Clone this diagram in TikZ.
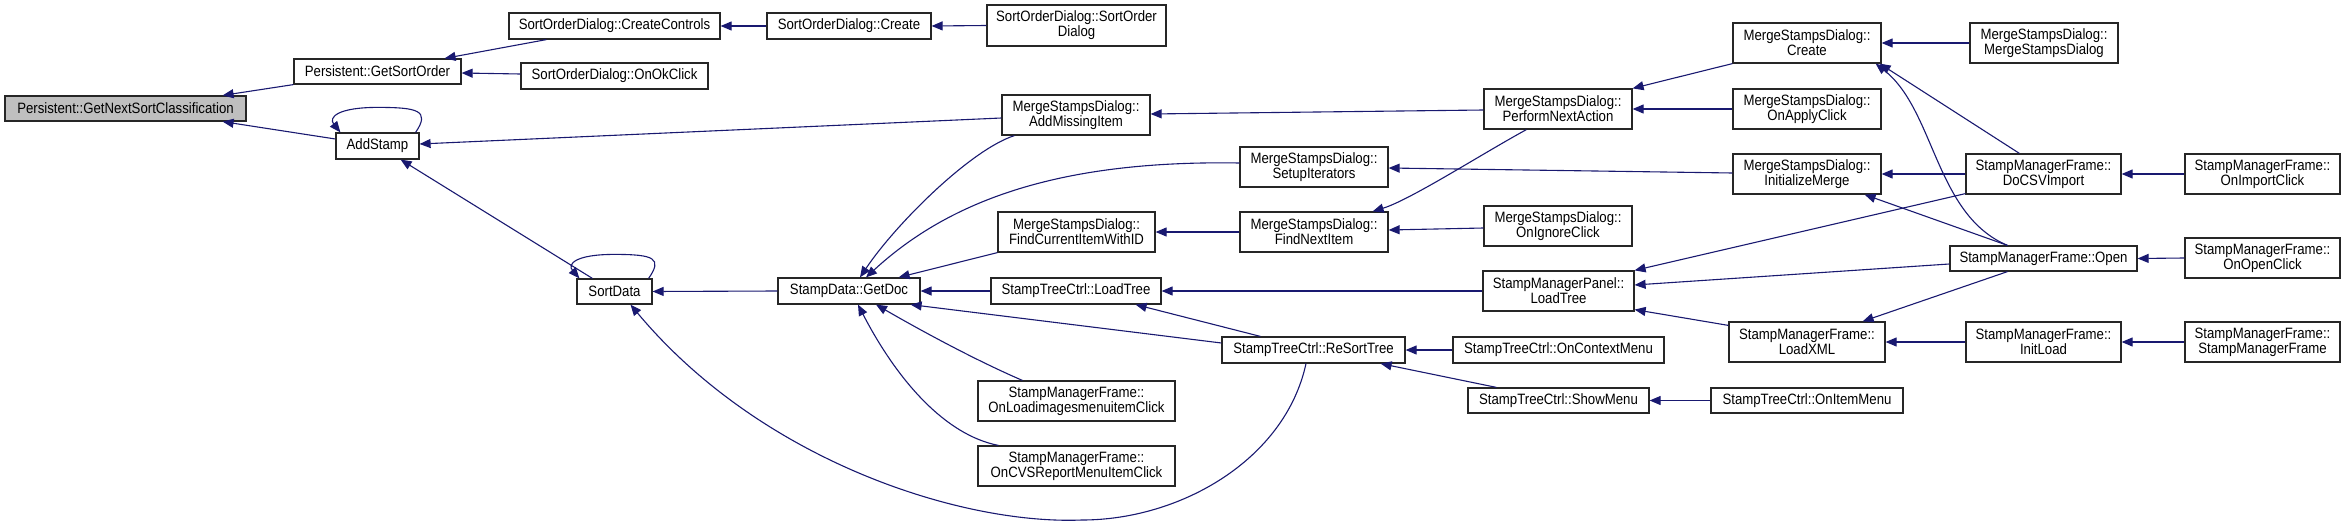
\documentclass[tikz,border=0pt]{standalone}
\usepackage{fontspec}
\newfontfamily\dxfont{Liberation Sans}[FakeStretch=0.88]
\usetikzlibrary{calc,arrows.meta}
\definecolor{edgeblue}{RGB}{25,25,112}
\definecolor{nodegray}{RGB}{191,191,191}
\begin{document}
\begin{tikzpicture}[x=1pt,y=-1pt,
  box/.style={draw=black!85, line width=1.2pt, fill=white, inner sep=0pt, align=center,
    font=\fontsize{15}{15}\dxfont},
  edge/.style={draw=edgeblue, line width=1.1pt, -{Triangle[length=11pt,width=9pt]}, fill=none}]
\useasboundingbox (0,0) rectangle (2345,527);
% rank 0
\node[box, fill=nodegray, minimum width=241pt, minimum height=25pt] (gnsc) at (125.5,108.5) {Persistent::GetNextSortClassification};
% rank 1
\node[box, minimum width=167pt, minimum height=25pt] (gso) at (377.5,71.5) {Persistent::GetSortOrder};
\node[box, minimum width=83pt, minimum height=26pt] (add) at (377.5,146) {AddStamp};
% rank 2
\node[box, minimum width=211pt, minimum height=26pt] (scc) at (614.5,26) {SortOrderDialog::CreateControls};
\node[box, minimum width=187pt, minimum height=26pt] (sok) at (614.5,76) {SortOrderDialog::OnOkClick};
\node[box, minimum width=75pt, minimum height=25pt] (sd) at (614.5,291.5) {SortData};
% rank 3
\node[box, minimum width=164pt, minimum height=26pt] (soc) at (849,26) {SortOrderDialog::Create};
\node[box, minimum width=142pt, minimum height=26pt] (gd) at (849,291) {StampData::GetDoc};
% rank 4
\node[box, minimum width=179pt, minimum height=41pt] (sod) at (1076.5,25.5) {SortOrderDialog::SortOrder\\Dialog};
\node[box, minimum width=148pt, minimum height=40pt] (ami) at (1076,115) {MergeStampsDialog::\\AddMissingItem};
\node[box, minimum width=157pt, minimum height=40pt] (fci) at (1076.5,232) {MergeStampsDialog::\\FindCurrentItemWithID};
\node[box, minimum width=170pt, minimum height=26pt] (stl) at (1076,291) {StampTreeCtrl::LoadTree};
\node[box, minimum width=197pt, minimum height=40pt] (oli) at (1076.5,401) {StampManagerFrame::\\OnLoadimagesmenuitemClick};
\node[box, minimum width=197pt, minimum height=40pt] (ocv) at (1076.5,466) {StampManagerFrame::\\OnCVSReportMenuItemClick};
% rank 5
\node[box, minimum width=148pt, minimum height=40pt] (sit) at (1314,167) {MergeStampsDialog::\\SetupIterators};
\node[box, minimum width=148pt, minimum height=40pt] (fni) at (1314,232) {MergeStampsDialog::\\FindNextItem};
\node[box, minimum width=183pt, minimum height=26pt] (rst) at (1313.5,350) {StampTreeCtrl::ReSortTree};
% rank 6
\node[box, minimum width=148pt, minimum height=40pt] (pna) at (1558,109) {MergeStampsDialog::\\PerformNextAction};
\node[box, minimum width=148pt, minimum height=40pt] (oig) at (1558,226) {MergeStampsDialog::\\OnIgnoreClick};
\node[box, minimum width=151pt, minimum height=40pt] (spl) at (1558.5,291) {StampManagerPanel::\\LoadTree};
\node[box, minimum width=211pt, minimum height=26pt] (ocm) at (1558.5,350) {StampTreeCtrl::OnContextMenu};
\node[box, minimum width=181pt, minimum height=25pt] (smn) at (1558.5,400.5) {StampTreeCtrl::ShowMenu};
% rank 7
\node[box, minimum width=148pt, minimum height=40pt] (mcr) at (1807,43) {MergeStampsDialog::\\Create};
\node[box, minimum width=148pt, minimum height=40pt] (oap) at (1807,109) {MergeStampsDialog::\\OnApplyClick};
\node[box, minimum width=148pt, minimum height=40pt] (inm) at (1807,174) {MergeStampsDialog::\\InitializeMerge};
\node[box, minimum width=156pt, minimum height=40pt] (lxm) at (1807,342) {StampManagerFrame::\\LoadXML};
\node[box, minimum width=192pt, minimum height=25pt] (oim) at (1807,400.5) {StampTreeCtrl::OnItemMenu};
% rank 8
\node[box, minimum width=148pt, minimum height=40pt] (msd) at (2044,43) {MergeStampsDialog::\\MergeStampsDialog};
\node[box, minimum width=155pt, minimum height=40pt] (csv) at (2043.5,174) {StampManagerFrame::\\DoCSVImport};
\node[box, minimum width=187pt, minimum height=25pt] (opn) at (2043.5,258.5) {StampManagerFrame::Open};
\node[box, minimum width=155pt, minimum height=40pt] (ilo) at (2043.5,342) {StampManagerFrame::\\InitLoad};
% rank 9
\node[box, minimum width=155pt, minimum height=40pt] (oic) at (2262.5,174) {StampManagerFrame::\\OnImportClick};
\node[box, minimum width=155pt, minimum height=40pt] (ooc) at (2262.5,258) {StampManagerFrame::\\OnOpenClick};
\node[box, minimum width=155pt, minimum height=40pt] (smf) at (2262.5,342) {StampManagerFrame::\\StampManagerFrame};

% edges
\draw[edge] (gso.south west) -- ($(gnsc.north east)+(-24,0)$);
\draw[edge] ($(add.west)+(0,-7)$) -- ($(gnsc.south east)+(-24,0)$);
\draw[edge] ($(scc.south west)+(38,0)$) -- ($(gso.north east)+(-17,0)$);
\draw[edge] ($(sok.west)+(0,-2)$) -- ($(gso.east)+(0,1.5)$);
\draw[edge] (soc.west) -- (scc.east);
\draw[edge] (sod.west) -- (soc.east);
\draw[edge] ($(add.north east)+(-4,0)$) .. controls +(15,-22) and +(40,0) .. ($(add.north)+(0,-25)$)
   .. controls +(-40,0) and +(-12,-15) .. ($(add.north west)+(5,0)$);
\draw[edge] ($(ami.west)+(0,3)$) -- ($(add.east)+(0,-2)$);
\draw[edge] ($(sd.north west)+(16,0)$) -- ($(add.south east)+(-19,0)$);
\draw[edge] ($(sd.north east)+(-4,0)$) .. controls +(14,-20) and +(40,0) .. ($(sd.north)+(0,-24)$)
   .. controls +(-40,0) and +(-12,-14) .. ($(sd.north west)+(3,0)$);
\draw[edge] (gd.west) -- (sd.east);
\draw[edge] ($(rst.south)+(-7.5,0)$) .. controls (1285,460) and (1180,520) .. (1082,520)
   .. controls (960,525) and (760,460) .. ($(sd.south)+(16,0)$);
\draw[edge] ($(ami.south west)+(13,0)$) .. controls (970,150) and (895,225) .. ($(gd.north)+(11,0)$);
\draw[edge] ($(sit.west)+(0,-4)$) .. controls (1060,160) and (950,200) .. ($(gd.north)+(17,0)$);
\draw[edge] (fci.south west) -- ($(gd.north east)+(-22,0)$);
\draw[edge] (stl.west) -- (gd.east);
\draw[edge] ($(rst.west)+(0,-7)$) -- ($(gd.south east)+(-10,0)$);
\draw[edge] ($(oli.north west)+(45,0)$) .. controls (975,360) and (920,330) .. ($(gd.south)+(27,0)$);
\draw[edge] ($(ocv.north west)+(21,0)$) .. controls (945,435) and (897,380) .. ($(gd.south)+(9,0)$);
\draw[edge] ($(pna.west)+(0,1)$) -- ($(ami.east)+(0,-1)$);
\draw[edge] (fni.west) -- (fci.east);
\draw[edge] ($(pna.south west)+(43,0)$) .. controls (1480,155) and (1410,200) .. ($(fni.north east)+(-16,0)$);
\draw[edge] ($(oig.west)+(0,2)$) -- ($(fni.east)+(0,-2)$);
\draw[edge] ($(inm.west)+(0,-1)$) -- ($(sit.east)+(0,1)$);
\draw[edge] (spl.west) -- (stl.east);
\draw[edge] ($(rst.north west)+(39,0)$) -- ($(stl.south east)+(-26,0)$);
\draw[edge] (ocm.west) -- (rst.east);
\draw[edge] ($(smn.north west)+(29,0)$) -- ($(rst.south east)+(-25,0)$);
\draw[edge] (oim.west) -- (smn.east);
\draw[edge] (mcr.south west) -- (pna.north east);
\draw[edge] (oap.west) -- (pna.east);
\draw[edge] (msd.west) -- (mcr.east);
\draw[edge] ($(csv.north west)+(54,0)$) -- ($(mcr.south east)+(-2,0)$);
\draw[edge] ($(opn.north)+(-36,0)$) .. controls (1935,215) and (1935,110) .. ($(mcr.south east)+(-6,0)$);
\draw[edge] (csv.west) -- (inm.east);
\draw[edge] ($(opn.north)+(-36,0)$) -- ($(inm.south east)+(-17,0)$);
\draw[edge] ($(csv.south west)+(0,-1)$) -- (spl.north east);
\draw[edge] ($(opn.west)+(0,5.5)$) -- ($(spl.east)+(0,-6)$);
\draw[edge] ($(lxm.north west)+(0,4)$) -- ($(spl.south east)+(0,-2)$);
\draw[edge] ($(opn.south)+(-36,0)$) -- ($(lxm.north east)+(-23,0)$);
\draw[edge] (ilo.west) -- (lxm.east);
\draw[edge] (oic.west) -- (csv.east);
\draw[edge] (ooc.west) -- (opn.east);
\draw[edge] (smf.west) -- (ilo.east);
\end{tikzpicture}
\end{document}
